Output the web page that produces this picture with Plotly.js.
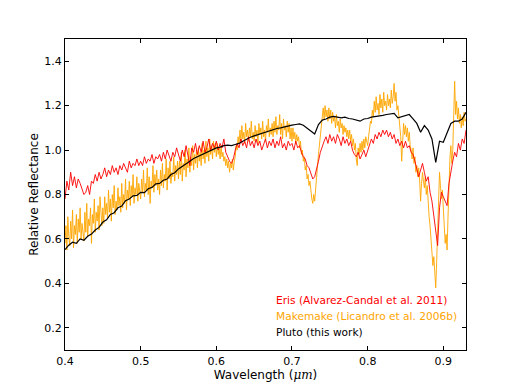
<!DOCTYPE html>
<html>
<head>
<meta charset="utf-8">
<script src="https://cdn.plot.ly/plotly-3.0.1.min.js"></script>
<style>
  body { margin: 0; background: #fff; }
  #plot { width: 518px; height: 390px; }
</style>
</head>
<body>
<div id="plot"></div>
<script>
// wavelength grids (micron): Makemake every 0.00125, Eris every 0.0025, Pluto every 0.005
const gridStart = 0.4;
const makemakeStep = 0.00125, erisStep = 0.0025, plutoStep = 0.005;

// Eris (Alvarez-Candal et al. 2011)
const erisRefl = [
  0.78, 0.86, 0.82, 0.90, 0.84, 0.88, 0.83, 0.87, 0.85, 0.82,
  0.80, 0.81, 0.84, 0.80, 0.86, 0.85, 0.89, 0.86, 0.90, 0.87,
  0.89, 0.92, 0.88, 0.91, 0.89, 0.93, 0.90, 0.92, 0.89, 0.93,
  0.91, 0.94, 0.92, 0.90, 0.95, 0.92, 0.94, 0.93, 0.96, 0.93,
  0.95, 0.93, 0.97, 0.94, 0.96, 0.95, 0.98, 0.94, 0.97, 0.96,
  0.98, 0.95, 0.99, 0.96, 1.00, 0.97, 0.95, 0.99, 0.97, 1.01,
  0.98, 0.95, 1.00, 0.97, 1.02, 0.98, 0.93, 1.01, 0.99, 1.03,
  0.98, 1.02, 0.99, 1.04, 0.99, 1.01, 1.05, 1.00, 1.03, 1.01,
  1.04, 1.00, 1.03, 1.01, 1.05, 0.99, 0.97, 0.95, 0.94, 0.96,
  1.00, 1.03, 1.01, 1.05, 1.02, 1.04, 1.01, 1.06, 1.02, 1.04,
  1.01, 1.05, 1.02, 1.04, 1.00, 1.03, 1.05, 1.01, 1.04, 1.02,
  1.05, 1.01, 1.04, 1.02, 1.06, 1.01, 1.03, 1.00, 1.04, 1.02,
  1.03, 1.00, 1.04, 1.01, 1.02, 0.99, 0.97, 0.96, 0.93, 0.92,
  0.89, 0.87, 0.88, 0.91, 0.95, 0.99, 1.02, 1.04, 1.06, 1.03,
  1.07, 1.04, 1.06, 1.03, 1.07, 1.05, 1.02, 1.06, 1.03, 1.05,
  1.02, 1.04, 1.00, 0.98, 0.97, 0.99, 0.96, 0.98, 1.00, 0.97,
  1.00, 1.02, 1.05, 1.03, 1.07, 1.05, 1.08, 1.06, 1.09, 1.07,
  1.09, 1.06, 1.08, 1.05, 1.07, 1.03, 1.05, 1.02, 1.04, 1.01,
  1.04, 1.01, 1.02, 0.99, 0.98, 0.95, 0.91, 0.88, 0.91, 0.94,
  0.90, 0.86, 0.88, 0.81, 0.77, 0.70, 0.64, 0.57, 0.74, 0.81,
  0.79, 0.77, 0.75, 0.85, 0.91, 0.95, 0.99, 0.97, 1.03, 1.00,
  1.05, 1.03, 1.09
];

// Makemake (Licandro et al. 2006b)
const makemakeRefl = [
  0.58, 0.66, 0.55, 0.70, 0.61, 0.57, 0.68, 0.60, 0.73, 0.56, 0.66, 0.62, 0.71, 0.58, 0.69, 0.63, 0.74, 0.60, 0.67, 0.64,
  0.59, 0.72, 0.63, 0.76, 0.61, 0.69, 0.66, 0.74, 0.58, 0.71, 0.67, 0.78, 0.63, 0.72, 0.68, 0.75, 0.64, 0.79, 0.70, 0.66,
  0.74, 0.67, 0.79, 0.71, 0.76, 0.69, 0.82, 0.72, 0.78, 0.68, 0.80, 0.74, 0.84, 0.71, 0.77, 0.73, 0.83, 0.75, 0.79, 0.72,
  0.85, 0.74, 0.80, 0.76, 0.87, 0.73, 0.82, 0.78, 0.86, 0.75, 0.84, 0.79, 0.89, 0.76, 0.83, 0.80, 0.88, 0.77, 0.85, 0.81,
  0.78, 0.87, 0.81, 0.91, 0.79, 0.85, 0.82, 0.92, 0.80, 0.88, 0.76, 0.86, 0.83, 0.93, 0.81, 0.89, 0.84, 0.91, 0.82, 0.87,
  0.80, 0.91, 0.84, 0.94, 0.83, 0.89, 0.86, 0.96, 0.82, 0.92, 0.87, 0.95, 0.85, 0.90, 0.88, 0.97, 0.86, 0.93, 0.89, 0.95,
  0.87, 0.95, 0.89, 0.99, 0.86, 0.94, 0.91, 1.00, 0.88, 0.96, 0.92, 1.01, 0.90, 0.97, 0.93, 1.02, 0.91, 0.98, 0.94, 1.00,
  0.92, 1.01, 0.95, 0.99, 0.93, 1.03, 0.96, 1.00, 0.94, 1.04, 0.97, 1.01, 0.95, 1.05, 0.98, 1.02, 0.96, 1.04, 0.99, 1.03,
  0.97, 1.03, 0.98, 1.01, 0.96, 1.02, 0.97, 0.99, 0.95, 0.97, 0.93, 0.96, 0.92, 0.95, 0.90, 0.94, 0.92, 0.96, 0.91, 0.95,
  0.97, 1.02, 1.00, 1.06, 1.03, 1.09, 1.04, 1.11, 1.05, 1.08, 1.03, 1.12, 1.06, 1.09, 1.04, 1.10, 1.06, 1.13, 1.05, 1.08,
  1.04, 1.11, 1.06, 1.09, 1.03, 1.12, 1.07, 1.10, 1.05, 1.13, 1.06, 1.09, 1.04, 1.11, 1.08, 1.14, 1.06, 1.10, 1.07, 1.12,
  1.06, 1.13, 1.08, 1.15, 1.07, 1.11, 1.09, 1.16, 1.07, 1.12, 1.05, 1.14, 1.09, 1.11, 1.06, 1.13, 1.08, 1.12, 1.05, 1.10,
  1.04, 1.10, 1.05, 1.08, 1.03, 1.07, 1.04, 1.06, 1.01, 1.04, 0.98, 1.00, 0.95, 0.97, 0.91, 0.93, 0.87, 0.89, 0.84, 0.86,
  0.81, 0.78, 0.76, 0.80, 0.77, 0.84, 0.88, 0.93, 0.98, 1.03, 1.07, 1.12, 1.15, 1.19, 1.14, 1.20, 1.15, 1.18, 1.13, 1.19,
  1.14, 1.18, 1.12, 1.17, 1.13, 1.15, 1.10, 1.16, 1.11, 1.13, 1.08, 1.14, 1.10, 1.12, 1.07, 1.11, 1.08, 1.10, 1.06, 1.09,
  1.05, 1.09, 1.04, 1.07, 1.02, 1.05, 1.00, 1.03, 0.96, 0.93, 1.01, 0.98, 1.03, 0.99, 1.04, 1.00, 1.05, 1.01, 1.06, 1.03,
  1.02, 1.06, 1.09, 1.13, 1.12, 1.18, 1.15, 1.22, 1.17, 1.24, 1.18, 1.21, 1.16, 1.25, 1.19, 1.23, 1.17, 1.26, 1.20, 1.22,
  1.18, 1.25, 1.20, 1.23, 1.19, 1.27, 1.21, 1.24, 1.30, 1.22, 1.26, 1.18, 1.20, 1.14, 1.12, 1.06, 0.95, 1.08, 1.12, 1.07,
  1.11, 1.06, 1.10, 1.04, 1.08, 1.02, 1.00, 0.96, 1.01, 0.94, 0.97, 0.90, 0.93, 0.88, 0.92, 0.86, 0.77, 0.85, 0.90, 0.86,
  0.83, 0.88, 0.80, 0.84, 0.74, 0.70, 0.66, 0.61, 0.56, 0.48, 0.52, 0.44, 0.38, 0.50, 0.66, 0.80, 0.90, 0.84, 0.78, 0.82,
  0.74, 0.66, 0.58, 0.62, 0.55, 0.70, 0.86, 0.96, 1.02, 0.94, 1.00, 1.20, 1.31, 1.16, 1.22, 1.14, 1.19, 1.12, 1.16, 1.10,
  1.15, 1.11, 1.17, 1.13, 1.14
];

// Pluto (this work)
const plutoRefl = [
  0.552, 0.572, 0.585, 0.580, 0.600, 0.594, 0.612, 0.622, 0.640, 0.652,
  0.676, 0.686, 0.710, 0.718, 0.740, 0.748, 0.772, 0.780, 0.794, 0.796,
  0.810, 0.808, 0.826, 0.832, 0.848, 0.850, 0.864, 0.870, 0.890, 0.898,
  0.915, 0.928, 0.940, 0.950, 0.962, 0.970, 0.978, 0.985, 0.995, 1.003,
  1.010, 1.013, 1.020, 1.022, 1.020, 1.025, 1.030, 1.040, 1.050, 1.058,
  1.064, 1.070, 1.076, 1.082, 1.088, 1.092, 1.097, 1.100, 1.105, 1.108,
  1.112, 1.115, 1.118, 1.112, 1.100, 1.085, 1.072, 1.115, 1.135, 1.140,
  1.148, 1.152, 1.150, 1.145, 1.148, 1.142, 1.140, 1.135, 1.130, 1.140,
  1.142, 1.148, 1.150, 1.155, 1.156, 1.160, 1.162, 1.165, 1.145, 1.150,
  1.155, 1.160, 1.140, 1.120, 1.080, 1.110, 1.090, 1.050, 0.945, 1.040,
  1.035, 1.080, 1.120, 1.130, 1.130, 1.140, 1.170
];

const legendLabels = [
  "Eris (Alvarez-Candal et al. 2011)",
  "Makemake (Licandro et al. 2006b)",
  "Pluto (this work)"
];
const seriesColors = ["#ff0000", "#ffa500", "#000000"];

function grid(start, step, n) {
  let out = [];
  for (let i = 0; i < n; i++) out.push(+(start + i * step).toFixed(5));
  return out;
}

const erisX = grid(gridStart, erisStep, erisRefl.length);
const makemakeX = grid(gridStart, makemakeStep, makemakeRefl.length);
const plutoX = grid(gridStart, plutoStep, plutoRefl.length);

// orange drawn first, red over it, Pluto on top
let data = [
  {
    x: makemakeX, y: makemakeRefl, type: "scatter", mode: "lines",
    line: { color: seriesColors[1], width: 1 }, opacity: 0.9, hoverinfo: "skip"
  },
  {
    x: erisX, y: erisRefl, type: "scatter", mode: "lines",
    line: { color: seriesColors[0], width: 1 }, opacity: 0.9, hoverinfo: "skip"
  },
  {
    x: plutoX, y: plutoRefl, type: "scatter", mode: "lines",
    line: { color: seriesColors[2], width: 1.2 }, hoverinfo: "skip"
  }
];

// text-only legend in the lower right, like the original
const legendY = [0.162, 0.108, 0.059];
let annotations = legendLabels.map((label, i) => ({
  text: label,
  xref: "paper", yref: "paper",
  x: 0.522, y: legendY[i],
  xanchor: "left", yanchor: "middle",
  showarrow: false,
  font: { color: seriesColors[i], size: 10.6 }
}));

const axisCommon = {
  showline: true, linecolor: "#000", linewidth: 1, mirror: "allticks",
  ticks: "inside", ticklen: 4, tickcolor: "#000", tickwidth: 1,
  showgrid: false, zeroline: false,
  tickfont: { size: 11, color: "#000" }
};

let layout = {
  width: 518, height: 390,
  margin: { l: 65, r: 52, t: 39, b: 40 },
  paper_bgcolor: "#fff", plot_bgcolor: "#fff",
  font: { family: "DejaVu Sans, sans-serif", color: "#000" },
  showlegend: false,
  xaxis: Object.assign({}, axisCommon, {
    range: [0.4, 0.93],
    tickvals: [0.4, 0.5, 0.6, 0.7, 0.8, 0.9],
    ticktext: ["0.4", "0.5", "0.6", "0.7", "0.8", "0.9"],
    ticklabelstandoff: 1,
    title: {
      text: "Wavelength (<span style=\"font-family:'DejaVu Serif'\"><i>μm</i></span>)",
      font: { size: 12 }, standoff: 2
    }
  }),
  yaxis: Object.assign({}, axisCommon, {
    range: [0.1, 1.5],
    tickvals: [0.2, 0.4, 0.6, 0.8, 1.0, 1.2, 1.4],
    ticktext: ["0.2", "0.4", "0.6", "0.8", "1.0", "1.2", "1.4"],
    title: { text: "Relative Reflectance", font: { size: 12 }, standoff: 3 }
  }),
  annotations: annotations
};

Plotly.newPlot("plot", data, layout, { staticPlot: true });
</script>
</body>
</html>
